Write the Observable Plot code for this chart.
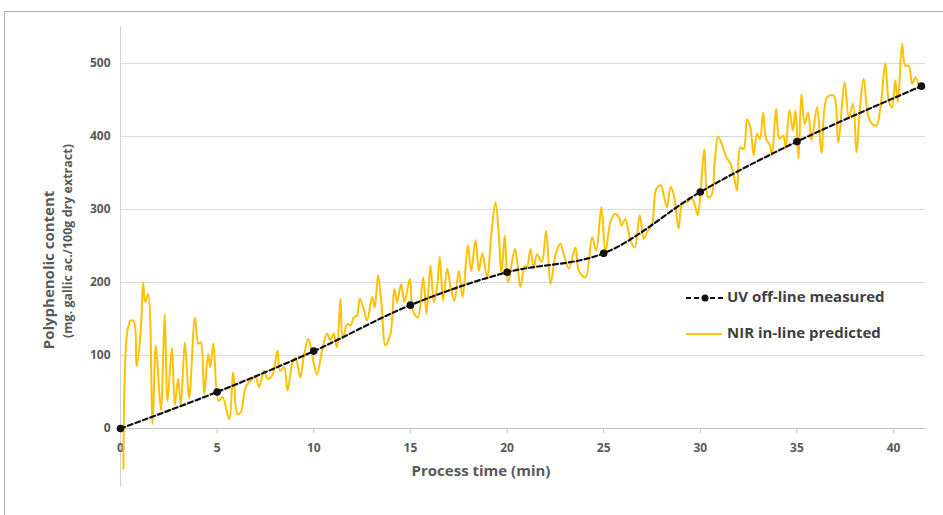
<!DOCTYPE html>
<html>
<head>
<meta charset="utf-8">
<script src="https://cdn.jsdelivr.net/npm/d3@7"></script>
<script src="https://cdn.jsdelivr.net/npm/@observablehq/plot@0.6"></script>
<style>
  html, body { margin: 0; padding: 0; background: #fff; }
  #wrap { position: relative; width: 943px; height: 515px; overflow: hidden; font-family: "Open Sans", sans-serif; }
  #frame { position: absolute; left: 4px; top: 11px; width: 950px; height: 520px; border-left: 1px solid #b0b0b0; border-top: 1px solid #b0b0b0; pointer-events: none; }
  #overlay { position: absolute; left: 0; top: 0; }
</style>
</head>
<body>
<div id="wrap">
  <div id="chart"></div>
  <div id="frame"></div>
  <svg id="overlay" width="943" height="515"></svg>
</div>
<script>
// ---- data ----
const uvTime  = [0, 5, 10, 15, 20, 25, 30, 35, 41.44];
const uvValue = [0, 50, 106, 169, 214, 240, 324, 393, 469];

const nirTime = [0.15,0.36,0.53,0.7,0.83,1.05,1.17,1.28,1.43,1.66,1.83,2.09,2.29,2.43,2.66,2.81,2.98,3.12,3.33,3.55,3.85,4.03,4.15,4.33,4.53,4.64,4.81,5.07,5.28,5.62,5.83,6.05,6.22,6.48,6.83,7.0,7.17,7.43,7.6,7.86,8.12,8.26,8.47,8.64,8.9,9.05,9.22,9.31,9.48,9.71,9.88,10.0,10.17,10.43,10.69,10.86,11.03,11.2,11.38,11.5,11.73,11.9,12.07,12.24,12.38,12.58,12.76,13.02,13.15,13.33,13.5,13.71,13.97,14.17,14.31,14.52,14.69,14.97,15.12,15.38,15.66,15.83,16.04,16.21,16.38,16.52,16.69,16.9,17.11,17.28,17.5,17.7,17.97,18.14,18.37,18.54,18.72,18.97,19.19,19.4,19.57,19.71,19.88,20.05,20.4,20.52,20.69,20.92,21.03,21.21,21.38,21.55,21.8,22.02,22.25,22.5,22.76,22.93,23.19,23.54,23.71,24.06,24.4,24.61,24.88,25.09,25.35,25.57,25.78,25.92,26.12,26.38,26.6,26.87,27.07,27.24,27.5,27.72,27.96,28.1,28.28,28.45,28.62,28.88,29.06,29.3,29.57,29.7,29.87,30.0,30.21,30.4,30.57,30.75,30.92,31.13,31.34,31.57,31.73,31.9,32.07,32.24,32.42,32.6,32.76,32.93,33.08,33.25,33.4,33.6,33.71,33.92,34.1,34.3,34.41,34.61,34.79,34.92,35.08,35.23,35.4,35.58,35.75,36.04,36.27,36.56,36.9,37.13,37.47,37.68,37.9,38.08,38.25,38.45,38.68,38.89,39.11,39.32,39.57,39.75,39.92,40.09,40.22,40.44,40.6,40.78,40.96,41.13,41.33];
const nirValue = [-55,134,148,146,85,134,200,173,184,6,114,25,157,38,111,32,68,32,118,41,152,116,118,47,102,84,116,38,43,13,77,20,22,57,68,70,57,79,68,73,107,79,84,52,91,97,79,70,98,123,107,89,74,107,130,121,130,111,178,123,143,141,152,155,178,164,148,180,166,210,171,114,130,191,173,198,173,205,162,152,207,157,223,173,194,235,175,219,189,175,216,180,251,216,258,216,240,207,267,310,267,212,264,200,246,230,194,223,221,246,219,239,228,271,198,237,253,239,219,248,216,207,262,244,303,242,283,294,290,278,287,258,248,292,260,269,280,328,333,320,303,331,321,274,308,310,315,308,292,321,383,317,319,367,400,388,372,362,347,326,385,383,424,411,374,404,397,433,397,388,374,438,397,401,383,436,408,436,370,458,417,433,395,440,378,454,456,392,474,426,445,378,436,479,429,417,415,440,500,449,440,477,447,527,497,497,472,481,467];

const xTicks = [0, 5, 10, 15, 20, 25, 30, 35, 40];
const yTicks = [0, 100, 200, 300, 400, 500];
const yGrid  = [100, 200, 300, 400, 500];

const seriesNames = ["UV off-line measured", "NIR in-line predicted"];
const xTitle = "Process time (min)";
const yTitle1 = "Polyphenolic content";
const yTitle2 = "(mg. gallic ac./100g dry extract)";

// ---- tables ----
const uv  = uvTime.map((t, i) => ({t, v: uvValue[i]}));
const nir = nirTime.map((t, i) => ({t, v: nirValue[i]}));

const labelColor = "#595959";

const chart = Plot.plot({
  width: 943,
  height: 515,
  marginLeft: 120,
  marginRight: 18,
  marginTop: 26.5,
  marginBottom: 28.6,
  x: {domain: [0, 41.65], axis: null},
  y: {domain: [-80, 550], axis: null},
  style: {fontFamily: "Open Sans, sans-serif", background: "transparent"},
  marks: [
    Plot.ruleY(yGrid, {y: d => d, stroke: "#d9d9d9", strokeWidth: 1}),
    Plot.ruleY([0], {y: d => d, stroke: "#bfbfbf", strokeWidth: 1}),
    Plot.ruleX([0], {x: d => d, y1: -80, y2: 550, stroke: "#d0d0d0", strokeWidth: 1}),
    Plot.ruleX(xTicks.slice(1), {x: d => d, y1: 0, y2: -7, stroke: "#bfbfbf", strokeWidth: 1}),
    Plot.text(xTicks, {x: d => d, y: 0, dy: 20, text: d => String(d), fill: labelColor, fontWeight: "bold", fontSize: 12}),
    Plot.text(yTicks, {x: 0, y: d => d, dx: -10, textAnchor: "end", text: d => String(d), fill: labelColor, fontWeight: "bold", fontSize: 12}),
    Plot.line(nir, {x: "t", y: "v", curve: "catmull-rom", stroke: "#FFC000", strokeWidth: 2}),
    Plot.line(uv, {x: "t", y: "v", curve: "catmull-rom", stroke: "#111", strokeWidth: 2.2, strokeDasharray: "5,3"}),
    Plot.dot(uv, {x: "t", y: "v", r: 3.8, fill: "#111", stroke: "none"})
  ]
});
document.getElementById("chart").appendChild(chart);

// ---- titles & legend overlay ----
const ov = d3.select("#overlay");
ov.append("text").attr("transform", "translate(50,270) rotate(-90)")
  .attr("text-anchor", "middle").attr("dominant-baseline", "middle")
  .attr("font-family", "Open Sans, sans-serif").attr("font-weight", "bold")
  .attr("font-size", 15).attr("fill", labelColor).text(yTitle1);
ov.append("text").attr("transform", "translate(69,241) rotate(-90)")
  .attr("text-anchor", "middle").attr("dominant-baseline", "middle")
  .attr("font-family", "Open Sans, sans-serif").attr("font-weight", "bold")
  .attr("font-size", 12.5).attr("fill", labelColor).text(yTitle2);
ov.append("text").attr("x", 481).attr("y", 472)
  .attr("text-anchor", "middle").attr("dominant-baseline", "middle")
  .attr("font-family", "Open Sans, sans-serif").attr("font-weight", "bold")
  .attr("font-size", 15).attr("fill", labelColor).text(xTitle);

// legend
const lg = ov.append("g");
lg.append("line").attr("x1", 686).attr("x2", 723).attr("y1", 298).attr("y2", 298)
  .attr("stroke", "#111").attr("stroke-width", 2.2).attr("stroke-dasharray", "5,3");
lg.append("circle").attr("cx", 705).attr("cy", 298).attr("r", 3.5).attr("fill", "#111");
lg.append("line").attr("x1", 686).attr("x2", 722).attr("y1", 334).attr("y2", 334)
  .attr("stroke", "#FFC000").attr("stroke-width", 2);
[[298, seriesNames[0]], [334, seriesNames[1]]].forEach(([y, s]) => {
  lg.append("text").attr("x", 727).attr("y", y).attr("dominant-baseline", "middle")
    .attr("font-family", "Open Sans, sans-serif").attr("font-weight", "bold")
    .attr("font-size", 15).attr("fill", "#404040").text(s);
});
</script>
</body>
</html>
